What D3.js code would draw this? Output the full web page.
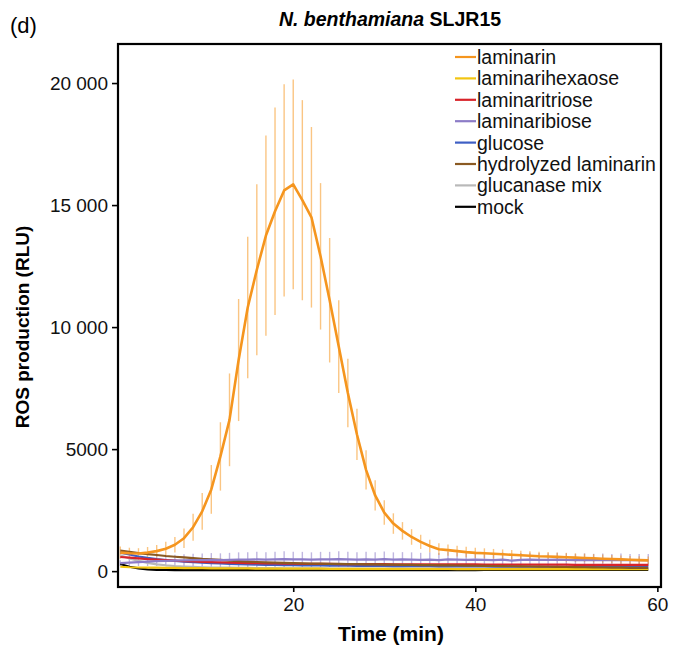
<!DOCTYPE html>
<html>
<head>
    <title>ROS production - N. benthamiana SLJR15</title>
    <style>
        body { margin: 0; background: #fff; }
        svg text { font-family: "Liberation Sans", Arial, sans-serif; }
    </style>
</head>
<body>
    <script src="https://cdn.jsdelivr.net/npm/d3@7"></script>
    <svg id="chart" width="680" height="651"></svg>

    <script>
        // time points (min)
        var minutes = d3.range(1, 60);

        var seriesNames = ["laminarin", "laminarihexaose", "laminaritriose", "laminaribiose",
                           "glucose", "hydrolyzed laminarin", "glucanase mix", "mock"];
        var seriesColors = ["#f5951e", "#f2c511", "#d8232a", "#8c7cc7",
                            "#3e5fc4", "#8a5a22", "#b9b9b9", "#000000"];

        // mean values (RLU), one per minute
        var laminarin = [760, 730, 720, 760, 820, 920, 1080, 1350, 1800, 2450,
                         3350, 4700, 6200, 8650, 10800, 12350, 13750, 14750, 15600, 15850,
                         15200, 14500, 12900, 11100, 9200, 7300, 5600, 4150, 3100, 2400,
                         1950, 1650, 1400, 1200, 1030, 900, 860, 820, 780, 750,
                         730, 710, 690, 670, 650, 630, 610, 600, 585, 570,
                         555, 540, 525, 510, 495, 480, 465, 450, 440];
        var laminarinSd = [250, 230, 220, 230, 250, 280, 320, 400, 550, 750,
                           1000, 1400, 1900, 2500, 2900, 3500, 4100, 4250, 4350, 4300,
                           4100, 3700, 3000, 2550, 1900, 1400, 1050, 800, 620, 500,
                           420, 360, 320, 290, 260, 240, 230, 220, 215, 210,
                           205, 200, 200, 195, 190, 190, 185, 185, 180, 180,
                           175, 175, 170, 170, 165, 165, 160, 160, 160];

        var laminarihexaose = [180, 160, 150, 145, 140, 135, 130, 125, 120, 120,
                               115, 115, 110, 110, 110, 105, 105, 105, 100, 100,
                               100, 100, 100, 95, 95, 95, 95, 95, 95, 90,
                               90, 90, 90, 90, 90, 90, 90, 85, 85, 85,
                               85, 85, 85, 85, 85, 85, 80, 80, 80, 80,
                               80, 80, 80, 80, 80, 80, 80, 80, 80];
        var laminaritriose = [580, 550, 520, 490, 470, 450, 430, 410, 395, 380,
                              370, 360, 350, 340, 330, 325, 320, 315, 310, 305,
                              300, 300, 295, 295, 290, 290, 290, 285, 285, 285,
                              280, 280, 280, 280, 280, 275, 275, 275, 275, 275,
                              270, 270, 270, 270, 270, 265, 265, 265, 265, 265,
                              260, 260, 260, 260, 260, 260, 260, 260, 260];
        var laminaribiose = [330, 350, 370, 390, 410, 420, 430, 440, 450, 455,
                             460, 450, 460, 470, 470, 480, 470, 480, 490, 480,
                             480, 470, 480, 480, 490, 480, 470, 480, 470, 490,
                             470, 480, 470, 460, 470, 450, 480, 470, 460, 470,
                             460, 450, 470, 430, 460, 470, 460, 460, 470, 460,
                             450, 460, 450, 460, 450, 460, 450, 450, 450];
        var laminaribioseSd = [120, 140, 160, 180, 200, 220, 240, 250, 260, 270,
                               280, 280, 290, 300, 300, 310, 300, 310, 320, 310,
                               310, 300, 310, 310, 320, 310, 300, 310, 300, 310,
                               300, 300, 300, 290, 300, 290, 300, 290, 290, 290,
                               280, 280, 290, 270, 280, 280, 280, 270, 280, 270,
                               260, 270, 260, 260, 250, 260, 250, 250, 250];
        var glucose = [760, 680, 600, 540, 490, 450, 420, 390, 365, 345,
                       330, 315, 300, 290, 280, 270, 260, 255, 250, 245,
                       240, 235, 230, 225, 220, 220, 215, 215, 210, 210,
                       205, 205, 200, 200, 200, 195, 195, 195, 190, 190,
                       190, 185, 185, 185, 180, 180, 180, 180, 175, 175,
                       175, 175, 170, 170, 170, 170, 170, 165, 165];
        var hydrolyzed = [840, 790, 740, 700, 660, 620, 590, 560, 530, 500,
                          480, 460, 430, 410, 390, 375, 360, 350, 340, 330,
                          320, 310, 305, 300, 295, 290, 285, 280, 275, 270,
                          265, 260, 255, 250, 245, 240, 235, 230, 225, 220,
                          215, 210, 205, 200, 195, 190, 185, 180, 175, 170,
                          165, 160, 155, 150, 145, 140, 135, 130, 130];
        var glucanaseMix = [650, 520, 420, 340, 280, 240, 210, 190, 175, 160,
                            150, 145, 140, 135, 130, 125, 120, 120, 115, 115,
                            110, 110, 110, 105, 105, 105, 100, 100, 100, 100,
                            100, 100, 95, 95, 95, 95, 95, 95, 95, 90,
                            90, 90, 90, 90, 90, 90, 90, 90, 90, 90,
                            90, 90, 90, 90, 90, 90, 90, 90, 90];
        var mock = [290, 180, 110, 70, 55, 50, 45, 45, 40, 40,
                    40, 40, 40, 40, 40, 40, 40, 40, 40, 40,
                    40, 40, 40, 40, 40, 40, 40, 40, 40, 40,
                    40, 45, 45, 45, 45, 45, 45, 45, 45, 45,
                    50, 50, 50, 50, 50, 50, 50, 50, 50, 50,
                    55, 55, 55, 55, 55, 55, 55, 55, 55];

        var yTicks = [0, 5000, 10000, 15000, 20000];
        var yTickLabels = ["0", "5000", "10 000", "15 000", "20 000"];
        var xTicks = [20, 40, 60];

        var svg = d3.select("#chart");
        var plotLeft = 118, plotRight = 661, plotTop = 44, plotBottom = 587;

        var x = d3.scaleLinear().domain([0.75, 60.4]).range([plotLeft, plotRight]);
        var y = d3.scaleLinear().domain([-650, 21600]).range([plotBottom, plotTop]);

        svg.append("clipPath").attr("id", "plotClip")
           .append("rect")
           .attr("x", plotLeft).attr("y", plotTop)
           .attr("width", plotRight - plotLeft).attr("height", plotBottom - plotTop);

        var plot = svg.append("g").attr("clip-path", "url(#plotClip)");

        var series = [
            {name: "mock", values: mock},
            {name: "glucanase mix", values: glucanaseMix},
            {name: "laminarihexaose", values: laminarihexaose},
            {name: "glucose", values: glucose},
            {name: "laminaritriose", values: laminaritriose},
            {name: "hydrolyzed laminarin", values: hydrolyzed},
            {name: "laminaribiose", values: laminaribiose, sd: laminaribioseSd},
            {name: "laminarin", values: laminarin, sd: laminarinSd}
        ];

        var color = d3.scaleOrdinal().domain(seriesNames).range(seriesColors);

        var line = d3.line()
                     .x(function(d, i) { return x(minutes[i]); })
                     .y(function(d) { return y(d); });

        // error bars first
        series.forEach(function(s) {
            if (!s.sd) return;
            plot.append("g")
                .selectAll("line")
                .data(s.values)
                .enter().append("line")
                .attr("x1", function(d, i) { return x(minutes[i]); })
                .attr("x2", function(d, i) { return x(minutes[i]); })
                .attr("y1", function(d, i) { return y(d - s.sd[i]); })
                .attr("y2", function(d, i) { return y(d + s.sd[i]); })
                .attr("stroke", color(s.name))
                .attr("stroke-opacity", 0.55)
                .attr("stroke-width", 1.4);
        });

        series.forEach(function(s) {
            plot.append("path")
                .datum(s.values)
                .attr("d", line)
                .attr("fill", "none")
                .attr("stroke", color(s.name))
                .attr("stroke-width", s.name == "laminarin" ? 2.6 : 2.2)
                .attr("stroke-linejoin", "round");
        });

        // axes
        var yAxis = d3.axisLeft(y)
                      .tickValues(yTicks)
                      .tickFormat(function(d, i) { return yTickLabels[i]; })
                      .tickSize(6).tickPadding(4);
        var gy = svg.append("g").attr("transform", "translate(" + plotLeft + ",0)").call(yAxis);
        gy.select(".domain").remove();
        gy.selectAll(".tick line").attr("stroke-width", 1.6);
        gy.selectAll("text").style("font-size", "19px").attr("fill", "#111");

        var xAxis = d3.axisBottom(x).tickValues(xTicks).tickSize(5).tickPadding(6);
        var gx = svg.append("g").attr("transform", "translate(0," + plotBottom + ")").call(xAxis);
        gx.select(".domain").remove();
        gx.selectAll(".tick line").attr("stroke-width", 1.6);
        gx.selectAll("text").style("font-size", "19px").attr("fill", "#111");

        // frame
        svg.append("rect")
           .attr("x", plotLeft).attr("y", plotTop)
           .attr("width", plotRight - plotLeft).attr("height", plotBottom - plotTop)
           .attr("fill", "none").attr("stroke", "#000").attr("stroke-width", 2.2);

        // legend
        var legend = svg.append("g").attr("transform", "translate(455,57)");
        var item = legend.selectAll("g")
                         .data(seriesNames)
                         .enter().append("g")
                         .attr("transform", function(d, i) { return "translate(0," + i * 21.4 + ")"; });
        item.append("line")
            .attr("x1", 0).attr("x2", 21).attr("y1", 0).attr("y2", 0)
            .attr("stroke", function(d) { return color(d); })
            .attr("stroke-width", 2.2);
        item.append("text")
            .attr("x", 22).attr("y", 7)
            .style("font-size", "19.5px")
            .attr("fill", "#111")
            .text(function(d) { return d; });

        // titles
        var title = svg.append("text")
                       .attr("x", 390).attr("y", 26)
                       .attr("text-anchor", "middle")
                       .style("font-size", "19.5px")
                       .style("font-weight", "bold");
        title.append("tspan").style("font-style", "italic").text("N. benthamiana");
        title.append("tspan").text(" SLJR15");

        svg.append("text")
           .attr("x", 10).attr("y", 33)
           .style("font-size", "22px")
           .text("(d)");

        svg.append("text")
           .attr("transform", "translate(29,327) rotate(-90)")
           .attr("text-anchor", "middle")
           .style("font-size", "19px")
           .style("font-weight", "bold")
           .text("ROS production (RLU)");

        svg.append("text")
           .attr("x", 391).attr("y", 641)
           .attr("text-anchor", "middle")
           .style("font-size", "21px")
           .style("font-weight", "bold")
           .text("Time (min)");
    </script>
</body>
</html>
